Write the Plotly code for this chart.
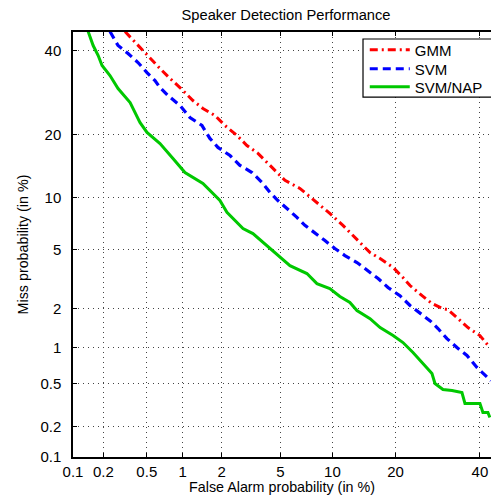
from statistics import NormalDist
import plotly.graph_objects as go

# Tick values (percent) for both probit axes
tick_values = [0.1, 0.2, 0.5, 1, 2, 5, 10, 20, 40]
tick_labels = ["0.1", "0.2", "0.5", "1", "2", "5", "10", "20", "40"]

# GMM (percent)
gmm_fa = [0.319, 0.435, 0.533, 0.650, 0.789, 0.952, 1.209, 1.446, 1.784, 2.111, 2.573, 3.020,
          3.587, 4.427, 5.34, 6.57, 8.02, 9.68, 11.34, 12.30, 13.80, 15.40, 17.12, 19.52,
          21.48, 22.94, 25.56, 27.83, 30.46, 31.69, 33.95, 36.81, 39.99, 42.70]
gmm_miss = [45.12, 40.74, 37.79, 35.18, 32.64, 30.40, 27.30, 25.50, 23.94, 21.84, 19.85, 17.95,
            16.54, 14.23, 12.29, 11.19, 9.66, 8.21, 7.02, 6.37, 5.54, 4.80, 4.40, 3.85,
            3.30, 2.91, 2.47, 2.17, 1.99, 1.96, 1.71, 1.436, 1.244, 0.999]

# SVM (percent)
svm_fa = [0.231, 0.275, 0.340, 0.418, 0.502, 0.589, 0.650, 0.759, 0.952, 1.145, 1.421, 1.634,
          1.877, 2.297, 2.702, 3.267, 3.808, 4.295, 4.826, 5.50, 6.31, 7.03, 8.02, 9.11,
          10.30, 11.61, 13.33, 14.92, 16.77, 18.55, 20.87, 22.94, 25.10, 27.35, 29.26, 31.44,
          33.95, 36.54, 39.19, 41.88, 42.97]
svm_miss = [45.12, 41.29, 39.13, 36.75, 34.14, 32.13, 30.40, 28.48, 26.17, 23.52, 21.84, 19.27,
            17.60, 16.18, 14.55, 13.44, 12.01, 10.68, 9.66, 8.76, 7.80, 7.02, 6.37, 5.70,
            5.09, 4.60, 4.15, 3.68, 3.25, 2.82, 2.47, 2.10, 1.83, 1.62, 1.411, 1.178,
            0.999, 0.861, 0.683, 0.561, 0.528]

# SVM/NAP (percent)
nap_fa = [0.142, 0.159, 0.178, 0.194, 0.231, 0.275, 0.355, 0.435, 0.502, 0.650, 0.835, 1.045,
          1.446, 1.634, 1.941, 2.184, 2.573, 2.838, 3.318, 4.104, 4.968, 5.73, 7.22, 8.23,
          9.68, 10.94, 12.30, 13.33, 15.40, 17.12, 19.52, 21.48, 23.57, 25.78, 27.83, 28.54,
          30.46, 32.70, 35.24, 36.02, 39.99, 40.80, 42.15, 42.70]
nap_miss = [45.12, 41.29, 38.59, 35.96, 33.39, 30.16, 26.85, 22.47, 20.43, 18.31, 15.67, 13.44,
            11.86, 10.93, 9.66, 8.32, 7.31, 6.73, 6.28, 5.31, 4.47, 3.96, 3.51, 3.00,
            2.77, 2.44, 2.21, 1.93, 1.68, 1.436, 1.244, 1.096, 0.910, 0.738, 0.608, 0.497,
            0.440, 0.431, 0.414, 0.330, 0.330, 0.272, 0.272, 0.2445]

nd = NormalDist()


def probit(vals):
    return [nd.inv_cdf(v / 100.0) for v in vals]


FONT = "Liberation Sans, Arial, Helvetica, sans-serif"

fig = go.Figure()
fig.add_trace(go.Scatter(x=probit(gmm_fa), y=probit(gmm_miss), mode="lines", name="GMM",
                         legend="legend",
                         line=dict(color="#ff0000", width=3, dash="8px,4px,2px,4px")))
fig.add_trace(go.Scatter(x=probit(svm_fa), y=probit(svm_miss), mode="lines", name="SVM",
                         legend="legend2",
                         line=dict(color="#0000ff", width=3.2, dash="8px,5px")))
fig.add_trace(go.Scatter(x=probit(nap_fa), y=probit(nap_miss), mode="lines", name="SVM/NAP",
                         legend="legend3",
                         line=dict(color="#00c800", width=3)))

axis_common = dict(
    tickvals=probit(tick_values), ticktext=tick_labels,
    showgrid=True, gridcolor="#444444", gridwidth=1, griddash="1px,4px",
    showline=True, linecolor="black", linewidth=1.5,
    ticks="inside", ticklen=4, tickcolor="black", tickwidth=1,
    tickfont=dict(family=FONT, size=15, color="black"),
    zeroline=False,
)

fig.update_xaxes(**axis_common, range=[nd.inv_cdf(0.001), nd.inv_cdf(0.43)], mirror="ticks",
                 title=dict(text="False Alarm probability (in %)",
                            font=dict(family=FONT, size=14.3, color="black"), standoff=2))
fig.update_yaxes(**axis_common, range=[nd.inv_cdf(0.001), nd.inv_cdf(0.45)], mirror=False,
                 ticklabelstandoff=7,
                 title=dict(text="Miss probability (in %)",
                            font=dict(family=FONT, size=14.3, color="black"), standoff=8))

# Legend frame (drawn as a shape so the entries can sit tight inside it)
fig.add_shape(type="rect", xref="paper", yref="paper", x0=0.6938, x1=1.05, y0=0.847, y1=0.9835,
              line=dict(color="black", width=1.2), fillcolor="white", layer="above")

leg_common = dict(x=0.698, xanchor="left", yanchor="middle", bgcolor="rgba(0,0,0,0)",
                  borderwidth=0, font=dict(family=FONT, size=15, color="black"), itemwidth=40)

fig.update_layout(
    width=491, height=495,
    margin=dict(l=73, r=0, t=32, b=38),
    paper_bgcolor="white", plot_bgcolor="white",
    title=dict(text="Speaker Detection Performance", x=0.5825, xanchor="center",
               y=0.970, yanchor="middle", font=dict(family=FONT, size=14.7, color="black")),
    legend=dict(**leg_common, y=0.9576),
    legend2=dict(**leg_common, y=0.9129),
    legend3=dict(**leg_common, y=0.8706),
    showlegend=True,
)

fig.write_html("out.html", config={"displayModeBar": False},
               post_script="document.body.style.margin='0';document.body.style.overflow='hidden';")
